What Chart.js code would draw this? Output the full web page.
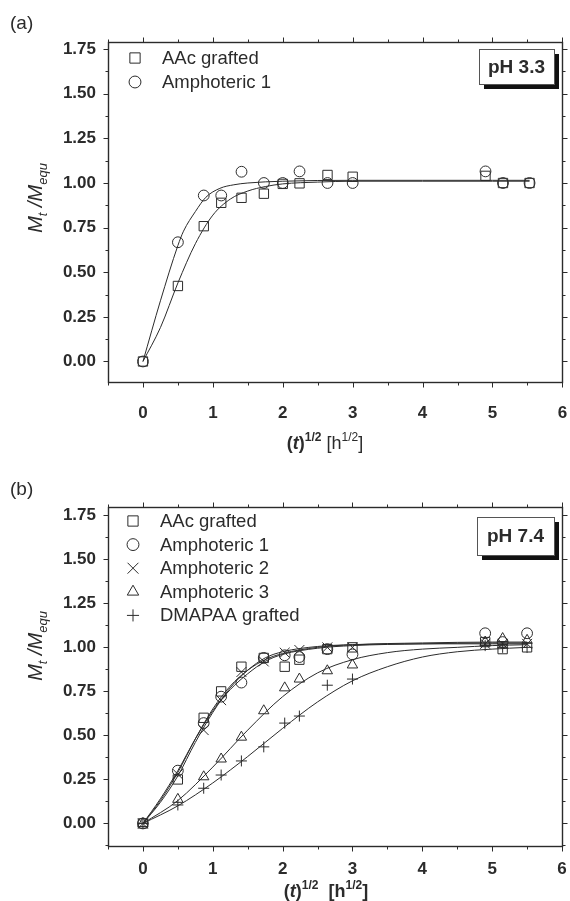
<!DOCTYPE html>
<html>
<head>
<meta charset="utf-8">
<script src="https://cdn.jsdelivr.net/npm/chart.js@4/dist/chart.umd.min.js"></script>
<style>
  html, body { margin: 0; padding: 0; background: #fff; }
  #wrap { position: relative; width: 570px; height: 901px; overflow: hidden; }
  .panel { position: absolute; left: 0; width: 570px; }
</style>
</head>
<body>
<div id="wrap">
  <div class="panel" style="top:0;height:470px"><canvas id="chartA"></canvas></div>
  <div class="panel" style="top:450px;height:451px"><canvas id="chartB"></canvas></div>
</div>
<script>
// axis ticks
const xMajor = [0, 1, 2, 3, 4, 5, 6];
const xMinor = [-0.5, 0.5, 1.5, 2.5, 3.5, 4.5, 5.5];
const yMajor = [0, 0.25, 0.5, 0.75, 1, 1.25, 1.5, 1.75];
const yMinor = [-0.125, 0.125, 0.375, 0.625, 0.875, 1.125, 1.375, 1.625];

// panel (a), pH 3.3 - measured points
const aX    = [0, 0.5, 0.87, 1.12, 1.41, 1.73, 2.0, 2.24, 2.64, 3.0, 4.9, 5.15, 5.53];
const aAAc  = [0, 0.423, 0.758, 0.889, 0.917, 0.94, 0.995, 0.998, 1.045, 1.035, 1.04, 1.0, 1.0];
const aAmp1 = [0, 0.668, 0.93, 0.93, 1.063, 1.0, 1.0, 1.065, 1.0, 1.0, 1.065, 1.0, 1.0];

// panel (a) fitted curves
const aFitAAcX  = [0, 0.25, 0.5, 0.75, 1, 1.25, 1.5, 1.75, 2, 2.5, 3, 4, 5, 5.53];
const aFitAAcY  = [0, 0.19, 0.44, 0.66, 0.82, 0.91, 0.955, 0.98, 0.995, 1.005, 1.01, 1.01, 1.01, 1.01];
const aFitAmp1X = [0, 0.25, 0.5, 0.58, 0.75, 0.9, 1.1, 1.3, 1.5, 2, 3, 4, 5, 5.53];
const aFitAmp1Y = [0, 0.34, 0.65, 0.73, 0.84, 0.92, 0.97, 0.99, 1.0, 1.01, 1.015, 1.015, 1.015, 1.015];

// panel (b), pH 7.4 - measured points
const bX    = [0, 0.5, 0.87, 1.12, 1.41, 1.73, 2.03, 2.24, 2.64, 3.0, 4.9, 5.15, 5.5];
const bAAc  = [0, 0.25, 0.60, 0.75, 0.89, 0.94, 0.89, 0.93, 0.99, 1.0, 1.03, 0.99, 1.0];
const bAmp1 = [0, 0.30, 0.57, 0.72, 0.80, 0.94, 0.955, 0.945, 0.99, 0.96, 1.08, 1.03, 1.08];
const bAmp2 = [0, 0.28, 0.53, 0.70, 0.86, 0.92, 0.97, 0.985, 1.0, 1.0, 1.02, 1.02, 1.02];
const bAmp3 = [0, 0.137, 0.265, 0.366, 0.49, 0.64, 0.77, 0.82, 0.867, 0.90, 1.03, 1.05, 1.04];
const bDma  = [0, 0.105, 0.20, 0.275, 0.355, 0.435, 0.57, 0.61, 0.785, 0.82, 1.01, 1.0, 1.0];

// panel (b) fitted curves
const bFitX    = [0, 0.25, 0.5, 0.75, 1, 1.25, 1.5, 1.75, 2, 2.5, 3, 4, 5, 5.5];
const bFitAAc  = [0, 0.13, 0.29, 0.48, 0.65, 0.78, 0.87, 0.93, 0.965, 1.0, 1.015, 1.025, 1.03, 1.03];
const bFitAmp1 = [0, 0.14, 0.30, 0.48, 0.64, 0.76, 0.85, 0.92, 0.96, 0.995, 1.01, 1.02, 1.025, 1.025];
const bFitAmp2 = [0, 0.12, 0.27, 0.46, 0.63, 0.77, 0.87, 0.94, 0.975, 1.005, 1.015, 1.02, 1.02, 1.02];
const bFit2X   = [0, 0.5, 1, 1.5, 2, 2.5, 3, 3.5, 4, 4.5, 5, 5.5];
const bFitAmp3 = [0, 0.13, 0.32, 0.53, 0.72, 0.855, 0.93, 0.97, 0.99, 1.0, 1.01, 1.015];
const bFitDma  = [0, 0.10, 0.23, 0.38, 0.54, 0.69, 0.81, 0.89, 0.945, 0.975, 0.99, 1.0];

const INK = '#2b2b2b';
const FONT = '"Liberation Sans", Arial, Helvetica, sans-serif';

function pts(xs, ys) {
    return xs.map((x, i) => ({ x: x, y: ys[i] }));
}

// frame, tick marks, legend, pH box and axis titles
const decor = {
    id: 'decor',
    afterDraw(chart, args, o) {
        const ctx = chart.ctx;
        const a = chart.chartArea;
        const sx = chart.scales.x, sy = chart.scales.y;
        ctx.save();
        ctx.strokeStyle = INK;
        ctx.fillStyle = INK;
        ctx.lineWidth = 1.4;
        const L = Math.round(a.left) + 0.5, R = Math.round(a.right) + 0.5;
        const T = Math.round(a.top) + 0.5, B = Math.round(a.bottom) + 0.5;
        ctx.strokeRect(L, T, R - L, B - T);

        ctx.lineWidth = 1;
        ctx.beginPath();
        const tickX = (v, len) => {
            const p = Math.round(sx.getPixelForValue(v)) + 0.5;
            ctx.moveTo(p, B); ctx.lineTo(p, B + len);
            ctx.moveTo(p, T); ctx.lineTo(p, T - len);
        };
        const tickY = (v, len) => {
            if (v < sy.min || v > sy.max) return;
            const p = Math.round(sy.getPixelForValue(v)) + 0.5;
            ctx.moveTo(L, p); ctx.lineTo(L - len, p);
            ctx.moveTo(R, p); ctx.lineTo(R + len, p);
        };
        xMajor.forEach(v => tickX(v, 5));
        xMinor.forEach(v => tickX(v, 3));
        yMajor.forEach(v => tickY(v, 5));
        yMinor.forEach(v => tickY(v, 3));
        ctx.stroke();

        // panel letter
        ctx.font = '19px ' + FONT;
        ctx.textAlign = 'left';
        ctx.textBaseline = 'alphabetic';
        ctx.fillText(o.letter, 10, o.letterY);

        // pH box with drop shadow
        const bx = o.box;
        ctx.fillStyle = '#111';
        ctx.fillRect(bx.x + 5, bx.y + 5, bx.w, bx.h);
        ctx.fillStyle = '#fff';
        ctx.fillRect(bx.x, bx.y, bx.w, bx.h);
        ctx.strokeStyle = '#555';
        ctx.strokeRect(bx.x + 0.5, bx.y + 0.5, bx.w, bx.h);
        ctx.fillStyle = INK;
        ctx.font = 'bold 19px ' + FONT;
        ctx.textAlign = 'center';
        ctx.textBaseline = 'middle';
        ctx.fillText(o.ph, bx.x + bx.w / 2, bx.y + bx.h / 2 + 1);

        // legend
        ctx.textAlign = 'left';
        ctx.textBaseline = 'alphabetic';
        ctx.font = '18.5px ' + FONT;
        ctx.strokeStyle = INK;
        let row = 0;
        chart.data.datasets.forEach(ds => {
            if (!ds.label) return;
            const y = o.legendY + row * o.legendStep;
            ctx.fillStyle = 'rgba(0,0,0,0)';
            Chart.helpers.drawPoint(ctx, {
                pointStyle: ds.pointStyle, radius: ds.pointRadius * 1.1,
                rotation: 0, borderWidth: 1
            }, o.legendX, y - 6);
            ctx.fillStyle = INK;
            ctx.fillText(ds.label, o.legendX + 27, y);
            row++;
        });

        // y title  M_t /M_equ
        ctx.save();
        ctx.translate(42, o.yTitleY);
        ctx.rotate(-Math.PI / 2);
        const yParts = [
            ['italic 20px ', 'M', 0], ['italic 13px ', 't', 5],
            ['italic 20px ', ' /M', 0], ['italic 13px ', 'equ', 5]
        ];
        drawParts(ctx, yParts, 0, 0);
        ctx.restore();

        // x title  (t)^1/2 [h^1/2]
        const w = o.boldUnit ? 'bold ' : '';
        const xParts = [
            ['bold 18px ', '(', 0], ['bold italic 18px ', 't', 0], ['bold 18px ', ')', 0],
            ['bold 12px ', '1/2', -8],
            [w + '18px ', o.boldUnit ? '  [h' : ' [h', 0], [w + '12px ', '1/2', -8], [w + '18px ', ']', 0]
        ];
        drawParts(ctx, xParts, o.xTitleX, o.xTitleY);
        ctx.restore();
    }
};

function drawParts(ctx, parts, cx, baseY) {
    let total = 0;
    parts.forEach(p => { ctx.font = p[0] + FONT; total += ctx.measureText(p[1]).width; });
    let x = cx - total / 2;
    ctx.textAlign = 'left';
    ctx.textBaseline = 'alphabetic';
    ctx.fillStyle = INK;
    parts.forEach(p => {
        ctx.font = p[0] + FONT;
        ctx.fillText(p[1], x, baseY + p[2]);
        x += ctx.measureText(p[1]).width;
    });
}

function makePanel(id, cfg) {
    const datasets = [];
    cfg.fits.forEach(f => datasets.push({
        type: 'line',
        data: pts(f[0], f[1]),
        borderColor: INK,
        borderWidth: 1,
        pointRadius: 0,
        cubicInterpolationMode: 'monotone',
        fill: false
    }));
    cfg.series.forEach(s => datasets.push({
        type: 'scatter',
        label: s.label,
        data: pts(cfg.x, s.y),
        pointStyle: s.style,
        pointRadius: s.r,
        borderColor: INK,
        backgroundColor: 'rgba(0,0,0,0)',
        pointBorderWidth: 1,
        showLine: false
    }));

    return new Chart(document.getElementById(id), {
        type: 'scatter',
        data: { datasets: datasets },
        options: {
            responsive: true,
            maintainAspectRatio: false,
            animation: false,
            layout: { padding: { top: cfg.top, right: 5, left: 0, bottom: 0 } },
            plugins: {
                legend: { display: false },
                tooltip: { enabled: false },
                decor: cfg.decor
            },
            scales: {
                x: {
                    type: 'linear',
                    min: -0.5,
                    max: 6,
                    afterBuildTicks: s => { s.ticks = xMajor.map(v => ({ value: v })); },
                    afterFit: s => { s.height = cfg.xh; s.paddingLeft = 0; s.paddingRight = 0; },
                    grid: { display: false, drawTicks: false },
                    border: { display: false },
                    ticks: {
                        padding: cfg.xpad,
                        autoSkip: false,
                        maxRotation: 0,
                        color: INK,
                        font: { family: FONT, size: 17, weight: 'bold' },
                        callback: v => String(v)
                    }
                },
                y: {
                    type: 'linear',
                    min: cfg.ymin,
                    max: cfg.ymax,
                    afterBuildTicks: s => { s.ticks = yMajor.map(v => ({ value: v })); },
                    afterFit: s => { s.width = 108; },
                    grid: { display: false, drawTicks: false },
                    border: { display: false },
                    ticks: {
                        padding: 12,
                        autoSkip: false,
                        color: INK,
                        font: { family: FONT, size: 17, weight: 'bold' },
                        callback: v => v.toFixed(2)
                    }
                }
            }
        },
        plugins: [decor]
    });
}

makePanel('chartA', {
    top: 42, xh: 88, xpad: 21, ymin: -0.115, ymax: 1.79,
    x: aX,
    series: [
        { label: 'AAc grafted', y: aAAc, style: 'rect', r: 6.6 },
        { label: 'Amphoteric 1', y: aAmp1, style: 'circle', r: 5.4 }
    ],
    fits: [[aFitAAcX, aFitAAcY], [aFitAmp1X, aFitAmp1Y]],
    decor: {
        letter: '(a)', letterY: 29,
        ph: 'pH 3.3', box: { x: 479, y: 49, w: 75, h: 35 },
        legendX: 135, legendY: 64, legendStep: 24,
        yTitleY: 198,
        xTitleX: 325, xTitleY: 449, boldUnit: false
    }
});

makePanel('chartB', {
    top: 57, xh: 55, xpad: 13, ymin: -0.128, ymax: 1.797,
    x: bX,
    series: [
        { label: 'AAc grafted', y: bAAc, style: 'rect', r: 6.6 },
        { label: 'Amphoteric 1', y: bAmp1, style: 'circle', r: 5.4 },
        { label: 'Amphoteric 2', y: bAmp2, style: 'crossRot', r: 7 },
        { label: 'Amphoteric 3', y: bAmp3, style: 'triangle', r: 6 },
        { label: 'DMAPAA grafted', y: bDma, style: 'cross', r: 5.5 }
    ],
    fits: [[bFitX, bFitAAc], [bFitX, bFitAmp1], [bFitX, bFitAmp2], [bFit2X, bFitAmp3], [bFit2X, bFitDma]],
    decor: {
        letter: '(b)', letterY: 45,
        ph: 'pH 7.4', box: { x: 477, y: 67, w: 77, h: 38 },
        legendX: 133, legendY: 77, legendStep: 23.6,
        yTitleY: 196,
        xTitleX: 326, xTitleY: 447, boldUnit: true
    }
});
</script>
</body>
</html>
